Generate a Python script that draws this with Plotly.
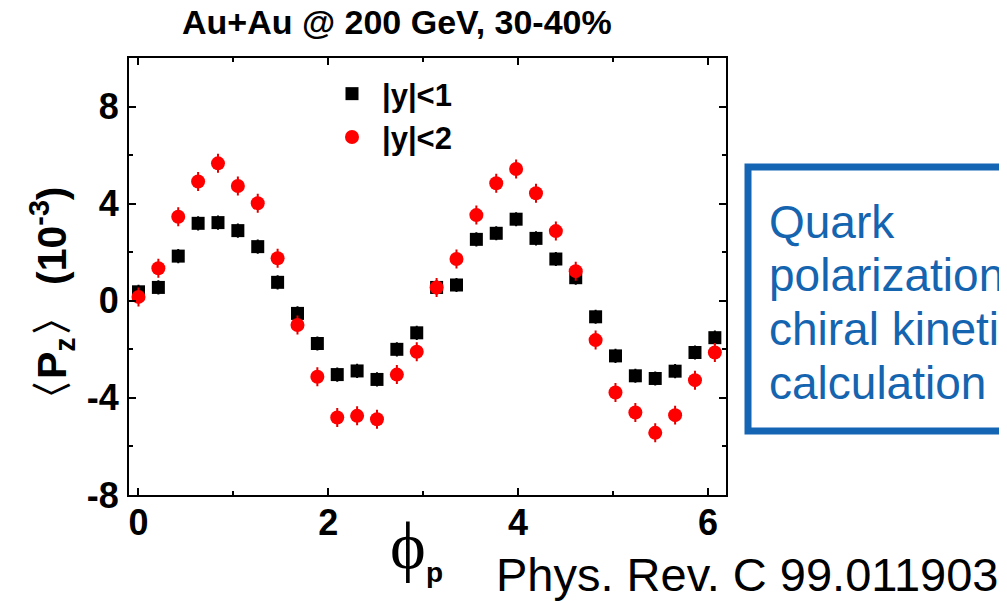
import plotly.graph_objects as go

# ---- data ----
phi_step = 0.2094
phi = [round(k * phi_step, 4) for k in range(30)]

pz_y1 = [0.37, 0.55, 1.84, 3.19, 3.22, 2.89, 2.23, 0.76, -0.52, -1.76,
         -3.04, -2.89, -3.24, -2.00, -1.32, 0.55, 0.65, 2.53, 2.78, 3.36,
         2.57, 1.72, 0.95, -0.66, -2.27, -3.09, -3.20, -2.90, -2.13, -1.52]
err_y1 = [0.25] * 30

pz_y2 = [0.16, 1.34, 3.46, 4.91, 5.66, 4.73, 4.02, 1.75, -1.00, -3.13,
         -4.81, -4.74, -4.88, -3.04, -2.10, 0.55, 1.72, 3.53, 4.84, 5.43,
         4.43, 2.87, 1.22, -1.62, -3.78, -4.60, -5.44, -4.71, -3.27, -2.13]
err_y2 = [0.35] * 30

x_ticks = [0, 2, 4, 6]
x_tick_labels = ["0", "2", "4", "6"]
y_ticks = [-8, -4, 0, 4, 8]
y_tick_labels = ["-8", "-4", "0", "4", "8"]

# page body has an 8px margin; the figure is shifted to compensate
OFF = 8
W, H = 1007, 601
L, R, T, B = 129, 726, 58, 495
FW, FH = W - OFF, H - OFF


def px(x):
    return (x - L) / (R - L)


def py(y):
    return (B - y) / (B - T)


fig = go.Figure()
fig.add_trace(go.Scatter(
    x=phi, y=pz_y1, mode="markers", name="|y|<1",
    marker=dict(symbol="square", size=13, color="black"),
    error_y=dict(type="data", array=err_y1, color="black", thickness=2, width=1),
))
fig.add_trace(go.Scatter(
    x=phi, y=pz_y2, mode="markers", name="|y|<2",
    marker=dict(symbol="circle", size=14, color="#ff0000"),
    error_y=dict(type="data", array=err_y2, color="#e00000", thickness=2, width=1),
))

axis_common = dict(
    showgrid=False, zeroline=False, showline=True, linecolor="black",
    linewidth=2, mirror="allticks", ticks="inside", ticklen=7, tickwidth=2,
    tickcolor="black",
    tickfont=dict(family="Liberation Sans", size=36, color="black", weight="bold"),
)

fig.update_xaxes(range=[-0.1, 6.19], tickvals=x_ticks, ticktext=x_tick_labels,
                 minor=dict(dtick=1, tick0=0, ticks="inside", ticklen=4,
                            tickwidth=2, tickcolor="black"),
                 ticklabelstandoff=-5, **axis_common)
fig.update_yaxes(range=[-8, 10], tickvals=y_ticks, ticktext=y_tick_labels,
                 minor=dict(dtick=2, tick0=0, ticks="inside", ticklen=4,
                            tickwidth=2, tickcolor="black"),
                 ticklabelstandoff=1, **axis_common)


def note(text, x, y, size, family="Liberation Sans", color="black",
         xanchor="center", angle=0):
    return dict(text=text, x=px(x), y=py(y), xref="paper", yref="paper",
                showarrow=False, xanchor=xanchor, yanchor="middle",
                textangle=angle,
                font=dict(family=family, size=size, color=color))


ann = [
    note("<b>Au+Au @ 200 GeV, 30-40%</b>", 397, 22, 34),
    note("<b>〈P<sub>z</sub>〉 (10<sup>-3</sup>)</b>", 52, 303, 41, angle=-90),
    note("ϕ", 408, 546, 68, family="Liberation Serif"),
    note("<b>p</b>", 434, 572, 28),
    note("Phys. Rev. C 99.011903", 494, 574, 47, xanchor="left"),
]

box_lines = ["Quark", "polarization from", "chiral kinetic", "calculation"]
box_y = [222, 275, 329, 383]
for t, yy in zip(box_lines, box_y):
    ann.append(note(t, 767, yy, 46, color="#1464b0", xanchor="left"))

fig.update_layout(
    width=FW, height=FH,
    margin=dict(l=L - OFF, r=W - R, t=T - OFF, b=H - B, pad=0),
    paper_bgcolor="white", plot_bgcolor="white",
    showlegend=True,
    legend=dict(x=px(322), y=py(67), xanchor="left", yanchor="top",
                bgcolor="rgba(0,0,0,0)",
                font=dict(family="Liberation Sans", size=31, color="black", weight="bold"),
                itemwidth=50),
    annotations=ann,
    shapes=[dict(type="rect", xref="paper", yref="paper",
                 x0=px(748), x1=px(1040), y0=py(167), y1=py(431),
                 line=dict(color="#1565b5", width=7))],
)

fig.write_html("out.html")
